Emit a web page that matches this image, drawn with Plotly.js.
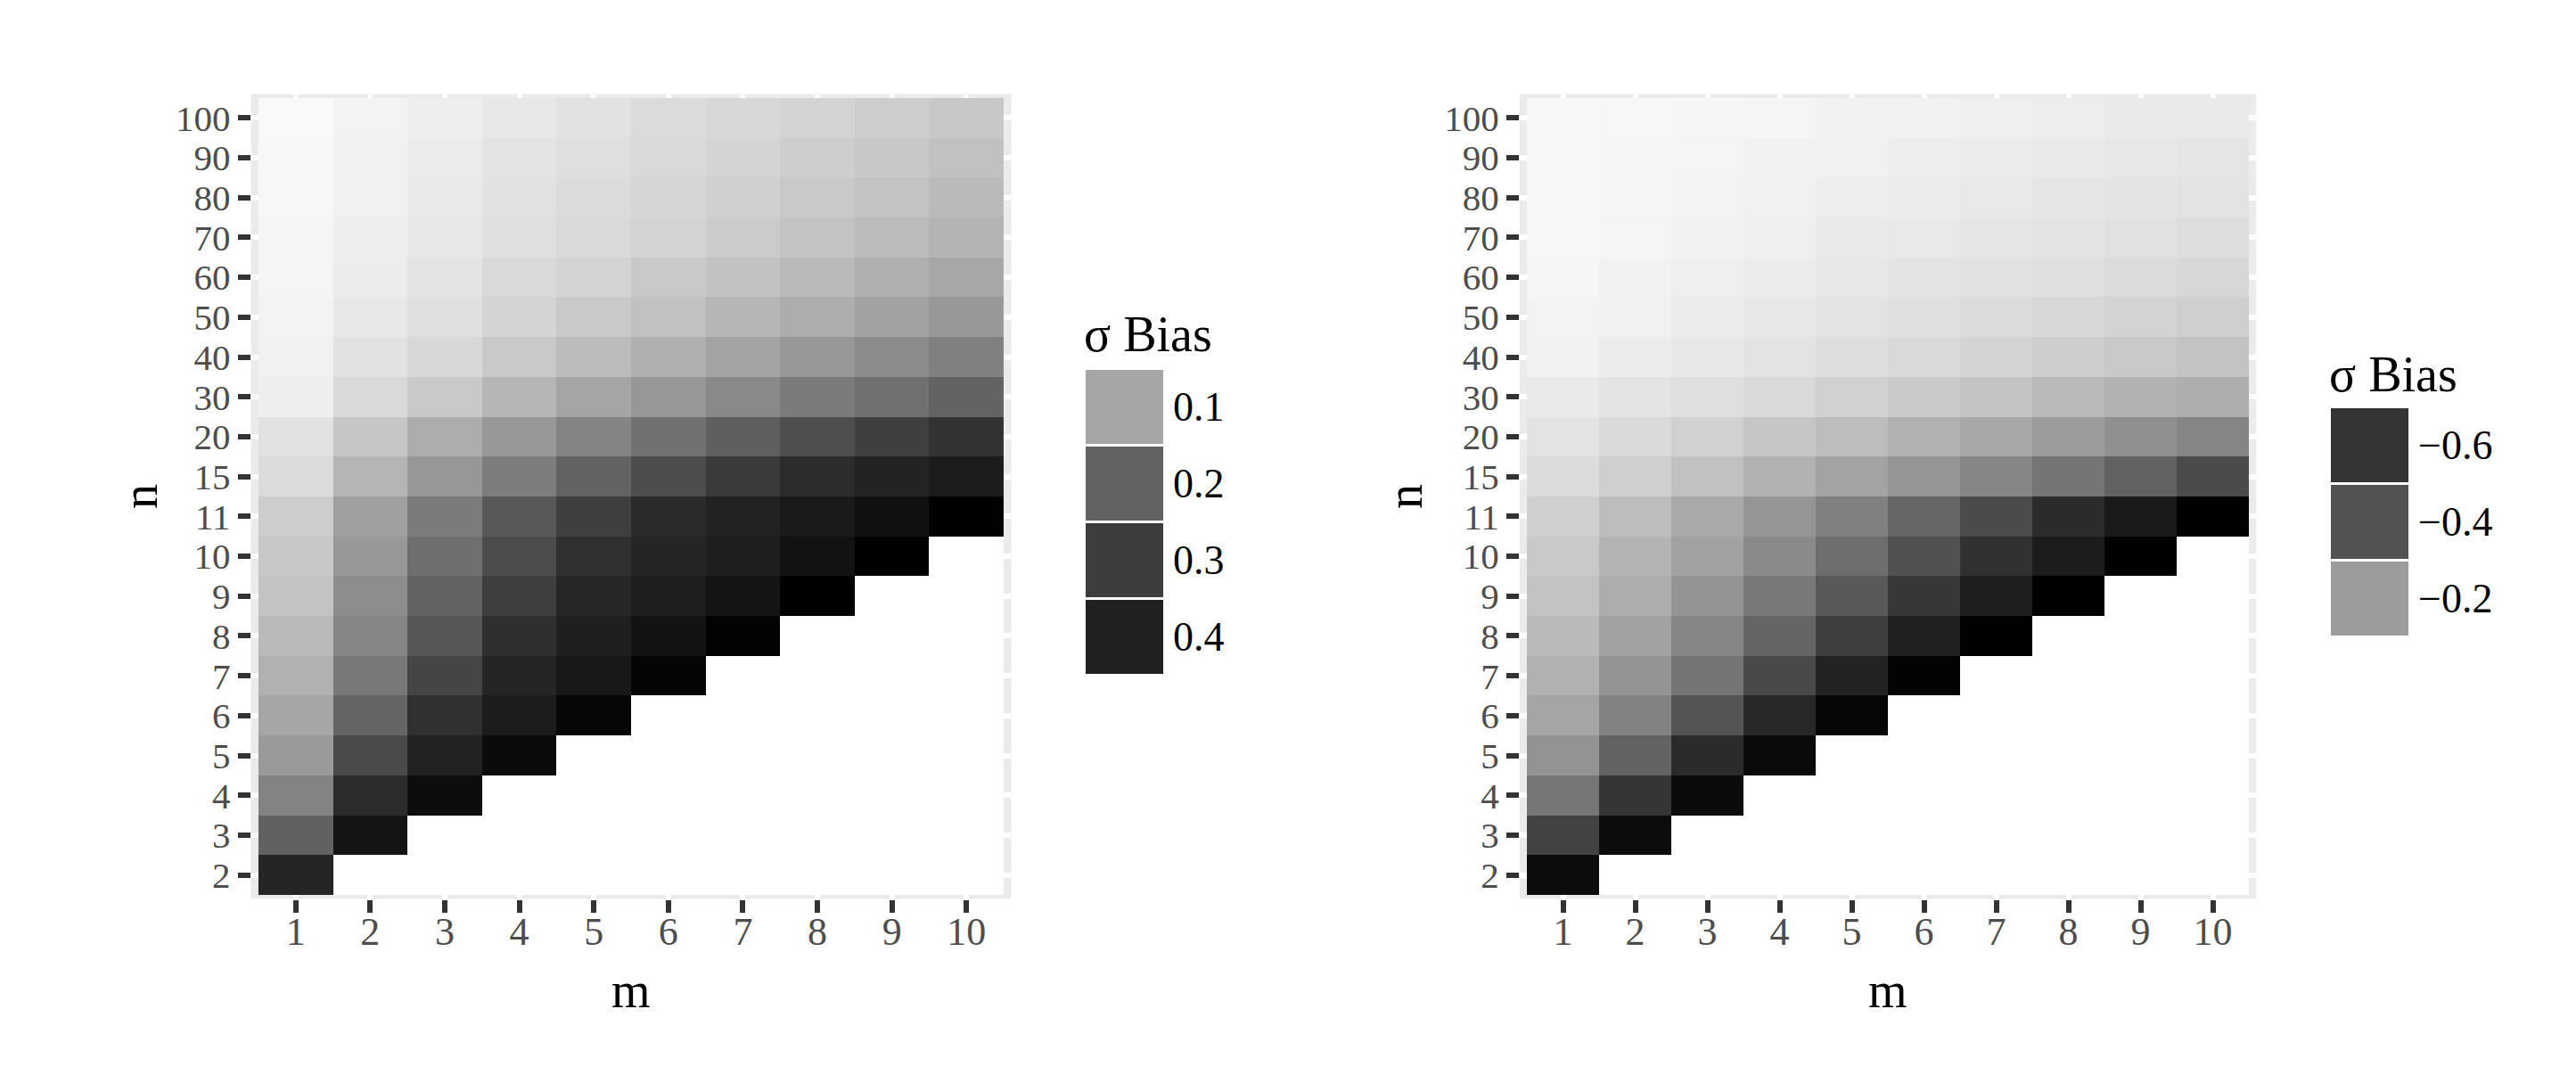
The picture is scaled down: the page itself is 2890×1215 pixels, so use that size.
<!DOCTYPE html>
<html>
<head>
<meta charset="utf-8">
<script src="https://cdn.plot.ly/plotly-3.0.1.min.js"></script>
<style>
  html, body { margin: 0; padding: 0; background: #ffffff; }
  #chart { width: 2890px; height: 1215px; }
</style>
</head>
<body>
<div id="chart"></div>
<script>
"use strict";

/******************************** Data *********************************/

var mValues = [1, 2, 3, 4, 5, 6, 7, 8, 9, 10];
var nValues = ['2', '3', '4', '5', '6', '7', '8', '9', '10', '11',
               '15', '20', '30', '40', '50', '60', '70', '80', '90', '100'];

// left panel: sigma bias, rows from n = 2 upward, m = 1..10 (missing where m >= n)
var leftBias = [
  [0.382],
  [0.203, 0.444],
  [0.142, 0.357, 0.464],
  [0.113, 0.262, 0.393, 0.469],
  [0.099, 0.193, 0.344, 0.415, 0.477],
  [0.089, 0.159, 0.277, 0.382, 0.430, 0.481],
  [0.082, 0.139, 0.230, 0.347, 0.401, 0.447, 0.485],
  [0.075, 0.127, 0.197, 0.297, 0.375, 0.408, 0.444, 0.491],
  [0.072, 0.115, 0.175, 0.256, 0.344, 0.382, 0.408, 0.450, 0.491],
  [0.069, 0.105, 0.154, 0.223, 0.294, 0.364, 0.393, 0.422, 0.456, 0.491],
  [0.060, 0.086, 0.116, 0.151, 0.197, 0.253, 0.310, 0.357, 0.390, 0.415],
  [0.056, 0.073, 0.093, 0.115, 0.140, 0.171, 0.208, 0.250, 0.294, 0.337],
  [0.050, 0.061, 0.071, 0.085, 0.100, 0.116, 0.134, 0.153, 0.173, 0.199],
  [0.049, 0.056, 0.062, 0.071, 0.080, 0.090, 0.101, 0.115, 0.130, 0.146],
  [0.048, 0.053, 0.057, 0.064, 0.071, 0.077, 0.085, 0.093, 0.103, 0.115],
  [0.047, 0.051, 0.055, 0.061, 0.065, 0.071, 0.076, 0.082, 0.090, 0.098],
  [0.047, 0.050, 0.053, 0.057, 0.061, 0.065, 0.070, 0.075, 0.081, 0.087],
  [0.046, 0.049, 0.052, 0.056, 0.060, 0.063, 0.067, 0.071, 0.075, 0.082],
  [0.046, 0.049, 0.051, 0.055, 0.058, 0.061, 0.064, 0.068, 0.072, 0.077],
  [0.045, 0.048, 0.050, 0.053, 0.056, 0.060, 0.062, 0.065, 0.069, 0.072]
];

// right panel
var rightBias = [
  [-0.727],
  [-0.504, -0.727],
  [-0.284, -0.588, -0.729],
  [-0.218, -0.338, -0.627, -0.731],
  [-0.185, -0.254, -0.393, -0.637, -0.739],
  [-0.166, -0.216, -0.290, -0.459, -0.655, -0.745],
  [-0.154, -0.191, -0.245, -0.331, -0.530, -0.665, -0.750],
  [-0.143, -0.174, -0.216, -0.276, -0.372, -0.576, -0.669, -0.750],
  [-0.136, -0.162, -0.191, -0.236, -0.306, -0.407, -0.608, -0.678, -0.750],
  [-0.128, -0.150, -0.178, -0.214, -0.258, -0.328, -0.446, -0.627, -0.685, -0.750],
  [-0.116, -0.129, -0.145, -0.165, -0.189, -0.214, -0.245, -0.287, -0.344, -0.446],
  [-0.109, -0.118, -0.127, -0.140, -0.151, -0.166, -0.181, -0.201, -0.223, -0.247],
  [-0.103, -0.108, -0.113, -0.119, -0.127, -0.135, -0.143, -0.155, -0.165, -0.172],
  [-0.097, -0.102, -0.105, -0.109, -0.114, -0.119, -0.124, -0.130, -0.136, -0.143],
  [-0.096, -0.098, -0.102, -0.105, -0.109, -0.112, -0.116, -0.120, -0.125, -0.129],
  [-0.094, -0.097, -0.099, -0.102, -0.105, -0.108, -0.110, -0.113, -0.117, -0.121],
  [-0.092, -0.095, -0.097, -0.099, -0.103, -0.104, -0.107, -0.109, -0.111, -0.114],
  [-0.092, -0.094, -0.096, -0.098, -0.100, -0.102, -0.104, -0.106, -0.108, -0.109],
  [-0.092, -0.094, -0.095, -0.097, -0.098, -0.100, -0.102, -0.103, -0.105, -0.107],
  [-0.092, -0.093, -0.094, -0.095, -0.097, -0.097, -0.099, -0.101, -0.103, -0.103]
];

var leftBreaks = [0.1, 0.2, 0.3, 0.4];
var rightBreaks = [-0.6, -0.4, -0.2];

/******************************** Colours *********************************/

function lightToGray(L) {               // CIE L* -> sRGB grey
  L = Math.max(0, Math.min(100, L));
  var Y = L > 8 ? Math.pow((L + 16) / 116, 3) : L / 903.3;
  var s = Y <= 0.0031308 ? 12.92 * Y : 1.055 * Math.pow(Y, 1 / 2.4) - 0.055;
  var g = Math.round(Math.max(0, Math.min(1, s)) * 255);
  return 'rgb(' + g + ',' + g + ',' + g + ')';
}

function leftLight(v) {
  if (v >= 0.3) return 25.8 - 135 * (v - 0.3);
  if (v >= 0.245) return 25.8 + (0.3 - v) / 0.055 * 8.2;
  return 68 - 38 * Math.log(v / 0.1);
}

function rightLight(v) {
  var a = Math.abs(v);
  if (a <= 0.4) return 64.5 - 42.6 * Math.log(a / 0.2);
  if (a <= 0.6) return 35 - 67.5 * (a - 0.4);
  return 21.5 - 143 * (a - 0.6);
}

function makeScale(zmin, zmax, lightFn) {
  var scale = [];
  for (var i = 0; i <= 80; i++) {
    var t = i / 80;
    scale.push([t, lightToGray(lightFn(zmin + t * (zmax - zmin)))]);
  }
  return scale;
}

function toGrid(rows) {                 // pad rows with null up to 10 columns
  return rows.map(function (r) {
    var out = r.slice();
    while (out.length < mValues.length) out.push(null);
    return out;
  });
}

/******************************** Figure *********************************/

var W = 2890, H = 1215;
var px = function (x) { return x / W; };
var py = function (y) { return 1 - y / H; };

var serif = 'Liberation Serif, Times New Roman, serif';
var whiteGrid = nValues.map(function () { return mValues.map(function () { return 1; }); });

function panel(xa, ya, rows, zmin, zmax, lightFn) {
  return [
    {   // NA tiles drawn white
      type: 'heatmap', x: mValues, y: nValues, z: whiteGrid,
      colorscale: [[0, '#ffffff'], [1, '#ffffff']], showscale: false,
      hoverinfo: 'skip', xaxis: xa, yaxis: ya
    },
    {
      type: 'heatmap', x: mValues, y: nValues, z: toGrid(rows),
      zmin: zmin, zmax: zmax, colorscale: makeScale(zmin, zmax, lightFn),
      showscale: false, xaxis: xa, yaxis: ya
    }
  ];
}

var data = panel('x', 'y', leftBias, 0.04, 0.5, leftLight)
  .concat(panel('x2', 'y2', rightBias, -0.76, -0.08, rightLight));

function xAxis(dom, anchor) {
  return {
    domain: dom, anchor: anchor, range: [0.4, 10.6],
    tickmode: 'array', tickvals: mValues, ticktext: mValues.map(String),
    ticks: 'outside', ticklen: 14, tickwidth: 6, tickcolor: '#333333',
    ticklabelstandoff: -16,
    tickfont: {family: serif, size: 44, color: '#4d4d4d'},
    showgrid: true, gridcolor: '#ffffff', gridwidth: 6, zeroline: false, showline: false
  };
}

function yAxis(dom, anchor) {
  return {
    domain: dom, anchor: anchor, type: 'category', categoryarray: nValues,
    range: [-0.6, nValues.length - 0.4],
    tickmode: 'array', tickvals: nValues, ticktext: nValues,
    ticks: 'outside', ticklen: 14, tickwidth: 6, tickcolor: '#333333',
    tickfont: {family: serif, size: 41, color: '#4d4d4d'},
    showgrid: true, gridcolor: '#ffffff', gridwidth: 6, zeroline: false, showline: false
  };
}

var yDom = [py(1008.5), py(105.5)];

var annotations = [];
var shapes = [];

function axisTitles(xc, nx) {
  annotations.push({xref: 'paper', yref: 'paper', x: px(xc), y: py(1111), text: 'm',
    showarrow: false, xanchor: 'center', yanchor: 'middle', font: {family: serif, size: 56, color: '#000000'}});
  annotations.push({xref: 'paper', yref: 'paper', x: px(nx), y: py(557), text: 'n', textangle: -90,
    showarrow: false, xanchor: 'center', yanchor: 'middle', font: {family: serif, size: 56, color: '#000000'}});
}

function legendBox(left, titleY, top, breaks, lightFn) {
  annotations.push({xref: 'paper', yref: 'paper', x: px(left - 4), y: py(titleY), text: 'σ Bias',
    showarrow: false, xanchor: 'left', yanchor: 'middle', font: {family: serif, size: 56, color: '#000000'}});
  breaks.forEach(function (b, i) {
    var y0 = top + i * 86;
    shapes.push({type: 'rect', xref: 'paper', yref: 'paper',
      x0: px(left), x1: px(left + 87), y0: py(y0), y1: py(y0 + 83),
      fillcolor: lightToGray(lightFn(b)), line: {width: 0}});
    annotations.push({xref: 'paper', yref: 'paper', x: px(left + 96), y: py(y0 + 41.5),
      text: b < 0 ? '\u2212' + Math.abs(b).toFixed(1) : b.toFixed(1),
      showarrow: false, xanchor: 'left', yanchor: 'middle', font: {family: serif, size: 46, color: '#000000'}});
  });
}

axisTitles(708, 157);
axisTitles(2118, 1576);
legendBox(1218, 375, 415, leftBreaks, leftLight);
legendBox(2615, 420, 458, rightBreaks, rightLight);

var layout = {
  width: W, height: H,
  margin: {l: 0, r: 0, t: 0, b: 0},
  paper_bgcolor: '#ffffff', plot_bgcolor: '#ebebeb',
  showlegend: false,
  xaxis: xAxis([px(281.6), px(1134.4)], 'y'),
  yaxis: yAxis(yDom, 'x'),
  xaxis2: xAxis([px(1704.9), px(2531.1)], 'y2'),
  yaxis2: yAxis(yDom, 'x2'),
  annotations: annotations,
  shapes: shapes
};

Plotly.newPlot('chart', data, layout, {staticPlot: true});
</script>
</body>
</html>
